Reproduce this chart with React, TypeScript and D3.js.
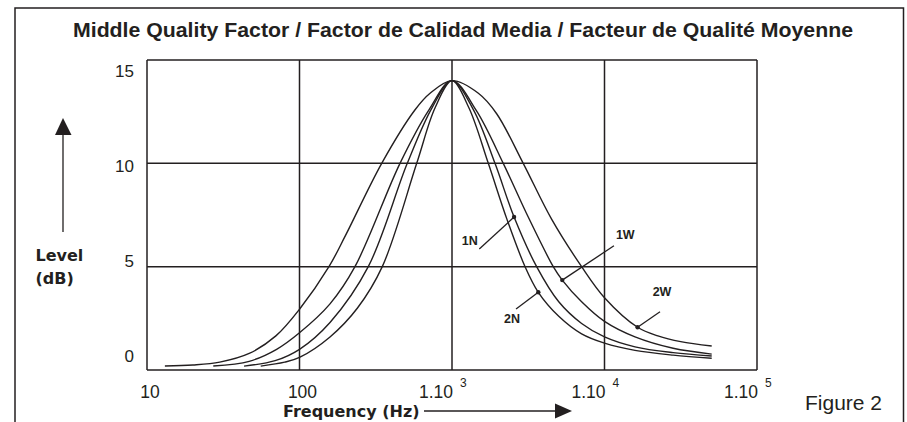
import React from 'react';
import * as d3 from 'd3';

const title = 'Middle Quality Factor / Factor de Calidad Media / Facteur de Qualité Moyenne';
const yTicks = [0, 5, 10, 15];
const xTicks = [10, 100, 1000, 10000, 100000];
const xTickLabels = ['10', '100', '1.10', '1.10', '1.10'];
const xTickExponents = ['', '', '3', '4', '5'];

// [frequency Hz, level dB]
const curve2W: [number, number][] = [
  [13.1, 0.19], [20, 0.24], [30, 0.38], [46.8, 0.8], [70, 1.65], [100, 2.94], [156, 5], [200, 6.5],
  [346, 10], [571, 12.58], [718, 13.39], [1000, 14], [1489, 13.39], [1963, 12.4], [2931, 10],
  [4498, 7.3], [7079, 5], [10000, 3.5], [16480, 2.07], [22390, 1.65], [31620, 1.37], [50470, 1.16],
];
const curve1W: [number, number][] = [
  [27.2, 0.19], [46.8, 0.42], [70.8, 1.0], [100, 1.8], [158.5, 3.2], [231, 5], [456, 10], [708, 12.6],
  [1000, 14], [1445, 12.55], [2168, 10], [3162, 7.4], [4613, 5], [5284, 4.35], [7079, 3.3],
  [10000, 2.35], [15850, 1.6], [28180, 1.05], [50470, 0.77],
];
const curve1N: [number, number][] = [
  [43.3, 0.19], [69.2, 0.45], [100, 1.0], [158.5, 2.3], [282.5, 5], [509, 10], [741, 12.7], [1000, 14],
  [1380, 12.6], [1914, 10], [2553, 7.4], [3589, 5], [5012, 3.3], [7079, 2.25], [10000, 1.6],
  [15850, 1.12], [28180, 0.84], [50470, 0.68],
];
const curve2N: [number, number][] = [
  [55.7, 0.19], [80, 0.38], [100, 0.61], [158.5, 1.6], [240, 3.0], [349, 5], [587, 10], [776, 12.7],
  [1000, 14], [1288, 12.7], [1730, 10], [2291, 7.3], [3013, 5], [3681, 3.76], [5012, 2.6],
  [7079, 1.75], [10000, 1.3], [15850, 0.95], [28180, 0.72], [50470, 0.57],
];
const curves = [curve2W, curve1W, curve1N, curve2N];

// annotation: label, dot [f, dB], leader start [f, dB], label anchor [f, dB]
const annoLabels = ['1N', '1W', '2N', '2W'];
const annoDots: [number, number][] = [[2553, 7.4], [5284, 4.35], [3681, 3.76], [16480, 2.07]];
const annoStarts: [number, number][] = [[1510, 5.85], [11530, 6.01], [2630, 2.95], [23120, 2.82]];
const annoText: [number, number][] = [[1159, 6.05], [11880, 6.34], [2193, 2.29], [20700, 3.58]];

const INK = '#231f20';
const SANS = '"Liberation Sans", Arial, sans-serif';
const WIDE = '"DejaVu Sans", Verdana, sans-serif';

export default function App() {
  const x = d3.scaleLog().domain([10, 100000]).range([147, 757]);
  const y = d3.scaleLinear().domain([0, 15]).range([370, 60]);
  const yLab = d3.scaleLinear().domain([0, 15]).range([362, 77]);
  const line = d3
    .line<[number, number]>()
    .x((d) => x(d[0]))
    .y((d) => y(d[1]))
    .curve(d3.curveCatmullRom.alpha(0.5));

  return (
    <svg
      width={907}
      height={422}
      style={{ position: 'absolute', left: 0, top: 0, background: '#fff' }}
    >
      <rect x={0} y={0} width={907} height={422} fill="#fff" />
      <rect x={15} y={8} width={888.5} height={430} fill="none" stroke={INK} strokeWidth={1.5} />
      <text x={463} y={36.5} textAnchor="middle" fontFamily={SANS} fontWeight="bold" fontSize={20}
        textLength={780} lengthAdjust="spacingAndGlyphs" fill={INK}>
        {title}
      </text>

      {/* grid */}
      {xTicks.map((t) => (
        <line key={'vx' + t} x1={x(t)} x2={x(t)} y1={y(15)} y2={y(0)} stroke={INK} strokeWidth={1.5} />
      ))}
      {yTicks.map((t) => (
        <line key={'hy' + t} x1={x(10)} x2={x(100000)} y1={y(t)} y2={y(t)} stroke={INK} strokeWidth={1.5} />
      ))}

      {/* y tick labels */}
      {yTicks.map((t) => (
        <text key={'yl' + t} x={134} y={yLab(t)} textAnchor="end" fontFamily={SANS} fontSize={17} fill={INK}>
          {t}
        </text>
      ))}

      {/* x tick labels */}
      {xTicks.map((t, i) =>
        xTickExponents[i] ? (
          <g key={'xl' + t}>
            <text x={x(t) + 1} y={398} textAnchor="end" fontFamily={SANS} fontSize={17.5} fill={INK}>
              {xTickLabels[i]}
            </text>
            <text x={x(t) + 8} y={387} textAnchor="start" fontFamily={SANS} fontSize={12} fill={INK}>
              {xTickExponents[i]}
            </text>
          </g>
        ) : (
          <text key={'xl' + t} x={x(t) + 3} y={398} textAnchor="middle" fontFamily={SANS} fontSize={17.5} fill={INK}>
            {xTickLabels[i]}
          </text>
        )
      )}

      {/* curves */}
      {curves.map((c, i) => (
        <path key={'c' + i} d={line(c) || ''} fill="none" stroke={INK} strokeWidth={1.4} />
      ))}

      {/* annotations */}
      {annoLabels.map((lab, i) => (
        <g key={'a' + lab}>
          <line x1={x(annoStarts[i][0])} y1={y(annoStarts[i][1])} x2={x(annoDots[i][0])} y2={y(annoDots[i][1])}
            stroke={INK} strokeWidth={1.3} />
          <circle cx={x(annoDots[i][0])} cy={y(annoDots[i][1])} r={2.2} fill={INK} />
          <text x={x(annoText[i][0])} y={y(annoText[i][1])} fontFamily={SANS} fontWeight="bold" fontSize={12.5} fill={INK}>
            {lab}
          </text>
        </g>
      ))}

      {/* y axis title with arrow */}
      <line x1={63} x2={63} y1={232} y2={130} stroke={INK} strokeWidth={1.3} />
      <polygon points="63,118 55,135 71.5,135" fill={INK} />
      <text fontFamily={WIDE} fontWeight="bold" fontSize={16} fill={INK}>
        <tspan x={35.5} y={261}>Level</tspan>
        <tspan x={35.5} y={283.5}>(dB)</tspan>
      </text>

      {/* x axis title with arrow */}
      <text x={283} y={416.5} fontFamily={WIDE} fontWeight="bold" fontSize={16} fill={INK}>
        Frequency (Hz)
      </text>
      <line x1={424} x2={560} y1={411} y2={411} stroke={INK} strokeWidth={1.3} />
      <polygon points="572,411 555,403.5 555,418.5" fill={INK} />

      <text x={805} y={410} fontFamily={SANS} fontSize={21} fill={INK}>
        Figure 2
      </text>
    </svg>
  );
}
